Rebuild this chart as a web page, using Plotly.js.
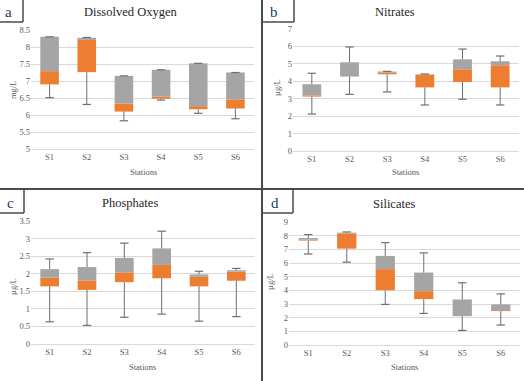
<!DOCTYPE html>
<html>
<head>
<meta charset="utf-8">
<script src="https://cdn.plot.ly/plotly-3.0.1.min.js"></script>
<style>html,body{margin:0;padding:0;background:#fff;}#chart{width:524px;height:381px;}</style>
</head>
<body>
<div id="chart"></div>
<script>
// Data
const stations = ['S1','S2','S3','S4','S5','S6'];

const doMin    = [6.51, 6.31, 5.83, 6.44, 6.05, 5.89];
const doQ1     = [6.90, 7.26, 6.10, 6.48, 6.17, 6.19];
const doMed    = [7.29, 8.21, 6.34, 6.54, 6.26, 6.46];
const doQ3     = [8.30, 8.27, 7.15, 7.33, 7.52, 7.25];
const doMax    = [8.30, 8.28, 7.15, 7.33, 7.52, 7.25];

const niMin    = [2.12, 3.25, 3.39, 2.64, 2.97, 2.64];
const niQ1     = [3.12, 4.27, 4.40, 3.65, 3.96, 3.65];
const niMed    = [3.19, 4.27, 4.49, 4.37, 4.69, 4.92];
const niQ3     = [3.83, 5.09, 4.56, 4.40, 5.26, 5.15];
const niMax    = [4.46, 5.97, 4.57, 4.42, 5.85, 5.45];

const phMin    = [0.63, 0.53, 0.76, 0.85, 0.65, 0.78];
const phQ1     = [1.64, 1.54, 1.76, 1.87, 1.64, 1.80];
const phMed    = [1.89, 1.81, 2.04, 2.25, 1.91, 2.06];
const phQ3     = [2.13, 2.19, 2.45, 2.72, 1.98, 2.10];
const phMax    = [2.42, 2.60, 2.87, 3.21, 2.07, 2.15];

const siMin    = [6.66, 6.06, 2.97, 2.31, 1.07, 1.46];
const siQ1     = [7.64, 7.05, 4.01, 3.36, 2.11, 2.48];
const siMed    = [7.71, 8.17, 5.55, 3.94, 2.11, 2.55];
const siQ3     = [7.83, 8.22, 6.52, 5.30, 3.33, 2.97];
const siMax    = [8.08, 8.27, 7.49, 6.74, 4.55, 3.74];

const titles = ['Dissolved Oxygen','Nitrates','Phosphates','Silicates'];
const units  = ['mg/L','µg/L','µg/L','µg/L'];
const letters = ['a','b','c','d'];

const ORANGE = '#ED7D31', GRAY = '#A5A5A5', WHISK = '#6f6f6f';
const FONT = 'Liberation Serif';

const panels = [
  {min:doMin, q1:doQ1, med:doMed, q3:doQ3, max:doMax},
  {min:niMin, q1:niQ1, med:niMed, q3:niQ3, max:niMax},
  {min:phMin, q1:phQ1, med:phMed, q3:phQ3, max:phMax},
  {min:siMin, q1:siQ1, med:siMed, q3:siQ3, max:siMax}
];

const traces = [];
panels.forEach((p, i) => {
  const xa = i === 0 ? 'x' : 'x' + (i + 1);
  const ya = i === 0 ? 'y' : 'y' + (i + 1);
  traces.push({
    type:'bar', x:stations, base:p.q1, y:p.med.map((m,k)=>m-p.q1[k]),
    xaxis:xa, yaxis:ya, width:0.5,
    marker:{color:ORANGE, line:{width:0}},
    hoverinfo:'skip'
  });
  traces.push({
    type:'bar', x:stations, base:p.med, y:p.q3.map((q,k)=>q-p.med[k]),
    xaxis:xa, yaxis:ya, width:0.5,
    marker:{color:GRAY, line:{width:0}},
    hoverinfo:'skip'
  });
  // whisker lines
  const wx = [], wy = [];
  stations.forEach((s,k) => {
    wx.push(s, s, null, s, s, null);
    wy.push(p.q1[k], p.min[k], null, p.q3[k], p.max[k], null);
  });
  traces.push({
    type:'scatter', mode:'lines', x:wx, y:wy, xaxis:xa, yaxis:ya,
    line:{color:WHISK, width:1}, connectgaps:false, hoverinfo:'skip'
  });
  // caps
  traces.push({
    type:'scatter', mode:'markers', x:stations.concat(stations), y:p.min.concat(p.max),
    xaxis:xa, yaxis:ya,
    marker:{symbol:'line-ew', size:6, line:{color:WHISK, width:1.2}},
    hoverinfo:'skip'
  });
});

const W = 524, H = 381;
const px = v => v / W, py = v => 1 - v / H;

const ranges = [[5,8.5],[0,7],[0,3.5],[0,9]];
const dticks = [0.5,1,0.5,1];
const xDom = [[31,254],[293,519],[31,255],[289,520]];
const yDom = [[30,149],[29,151],[221,344],[222,345]];

const layout = {
  width:W, height:H, margin:{l:0,r:0,t:0,b:0},
  paper_bgcolor:'#fff', plot_bgcolor:'#fff',
  showlegend:false, barmode:'overlay',
  font:{family:FONT, color:'#595959', size:8},
  annotations:[], shapes:[]
};

for (let i = 0; i < 4; i++) {
  const sx = i === 0 ? 'xaxis' : 'xaxis' + (i + 1);
  const sy = i === 0 ? 'yaxis' : 'yaxis' + (i + 1);
  const ya = i === 0 ? 'y' : 'y' + (i + 1);
  const xa = i === 0 ? 'x' : 'x' + (i + 1);
  layout[sx] = {
    domain:[px(xDom[i][0]), px(xDom[i][1])], anchor:ya,
    type:'category', showgrid:false, zeroline:false,
    showline:true, linecolor:'#d9d9d9', linewidth:1,
    ticks:'', tickfont:{family:FONT, size:8.5, color:'#595959'}, fixedrange:true
  };
  layout[sy] = {
    domain:[py(yDom[i][1]), py(yDom[i][0])], anchor:xa,
    range:ranges[i], dtick:dticks[i], tick0:0,
    showgrid:true, gridcolor:'#d9d9d9', gridwidth:1, zeroline:false, showline:false,
    ticks:'', tickfont:{family:FONT, size:8.5, color:'#595959'}, fixedrange:true
  };
}

// titles
const titlePos = [[130,12],[395,12],[130,203],[394,204]];
const stPos = [[143,172],[405,172],[142,367],[404,367]];
const yLabPos = [[13,90],[277,88],[13,287],[270,282]];
const letterPos = [[8,12],[274,12],[10,203],[275,203]];
for (let i = 0; i < 4; i++) {
  layout.annotations.push({
    text:titles[i], xref:'paper', yref:'paper', x:px(titlePos[i][0]), y:py(titlePos[i][1]),
    xanchor:'center', yanchor:'middle', showarrow:false,
    font:{family:FONT, size:12.5, color:'#262626'}
  });
  layout.annotations.push({
    text:'Stations', xref:'paper', yref:'paper', x:px(stPos[i][0]), y:py(stPos[i][1]),
    xanchor:'center', yanchor:'middle', showarrow:false,
    font:{family:FONT, size:8.5, color:'#595959'}
  });
  layout.annotations.push({
    text:units[i], xref:'paper', yref:'paper', x:px(yLabPos[i][0]), y:py(yLabPos[i][1]),
    xanchor:'center', yanchor:'middle', showarrow:false, textangle:-90,
    font:{family:FONT, size:8.5, color:'#595959'}
  });
  layout.annotations.push({
    text:letters[i], xref:'paper', yref:'paper', x:px(letterPos[i][0]), y:py(letterPos[i][1]),
    xanchor:'center', yanchor:'middle', showarrow:false,
    font:{family:FONT, size:15, color:'#1f3864'}
  });
}

// frame lines
const LC = '#4a4a4a';
function seg(x0,y0,x1,y1,w){
  layout.shapes.push({type:'line', xref:'paper', yref:'paper',
    x0:px(x0), y0:py(y0), x1:px(x1), y1:py(y1), line:{color:LC, width:w||1.5}});
}
seg(262,0,262,381,2);
seg(0,189,524,189,2);
// letter boxes
seg(0,22,23,22); seg(23,0,23,22);
seg(262,22,294,22); seg(294,0,294,22);
seg(0,213,24,213); seg(24,189,24,213);
seg(262,213,293,213); seg(293,189,293,213);

Plotly.newPlot('chart', traces, layout, {staticPlot:true, displayModeBar:false});
</script>
</body>
</html>
